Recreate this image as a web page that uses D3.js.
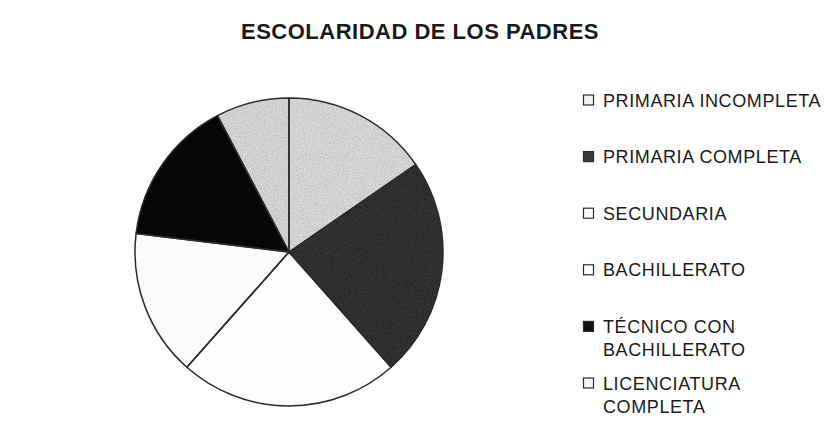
<!DOCTYPE html>
<html>
<head>
<meta charset="utf-8">
<script src="https://cdn.jsdelivr.net/npm/d3@7/dist/d3.min.js"></script>
<style>
  html, body { margin: 0; padding: 0; background: #ffffff; }
  svg { display: block; }
  text { font-family: "Liberation Sans", Arial, Helvetica, sans-serif; fill: #1a1a1a; }
</style>
</head>
<body>
<svg id="chart" width="834" height="445"></svg>
<script>
// Escolaridad de los padres: number of parents per schooling level
const categories = [
  "PRIMARIA INCOMPLETA",
  "PRIMARIA COMPLETA",
  "SECUNDARIA",
  "BACHILLERATO",
  "TÉCNICO CON BACHILLERATO",
  "LICENCIATURA COMPLETA"
];
const counts = [4, 6, 6, 4, 4, 2];
const legendLines = [
  ["PRIMARIA INCOMPLETA"],
  ["PRIMARIA COMPLETA"],
  ["SECUNDARIA"],
  ["BACHILLERATO"],
  ["TÉCNICO CON", "BACHILLERATO"],
  ["LICENCIATURA", "COMPLETA"]
];
const fills = ["#dadada", "#353535", "#fdfdfd", "#fbfbfb", "#060606", "#d8d8d8"];
const legendFills = ["#f4f4f4", "#3a3a3a", "#ffffff", "#ffffff", "#111111", "#f4f4f4"];
const title = "ESCOLARIDAD DE LOS PADRES";

const svg = d3.select("#chart");

// grain used on the shaded wedges
const defs = svg.append("defs");
const grain = defs.append("filter").attr("id", "grain")
  .attr("x", 0).attr("y", 0).attr("width", 1).attr("height", 1);
grain.append("feTurbulence").attr("type", "fractalNoise")
  .attr("baseFrequency", 0.9).attr("numOctaves", 2).attr("seed", 7).attr("result", "n");
grain.append("feColorMatrix").attr("in", "n").attr("type", "matrix")
  .attr("values", "0 0 0 0 0  0 0 0 0 0  0 0 0 0 0  0 0 0 -1.6 1.0")
  .attr("result", "dots");
grain.append("feComposite").attr("in", "dots").attr("in2", "SourceGraphic").attr("operator", "in");

// title
svg.append("text")
  .attr("x", 420).attr("y", 39)
  .attr("text-anchor", "middle")
  .attr("font-size", 22).attr("font-weight", "bold")
  .attr("letter-spacing", 0.5)
  .text(title);

// pie
const cx = 289, cy = 252, r = 154;
const pie = d3.pie().sort(null).value(d => d)(counts);
const arc = d3.arc().innerRadius(0).outerRadius(r);
const g = svg.append("g").attr("transform", `translate(${cx},${cy})`);

g.selectAll("path.slice")
  .data(pie)
  .join("path")
  .attr("class", "slice")
  .attr("d", arc)
  .attr("fill", (d, i) => fills[i]);

// grain overlay on the grey wedges
g.selectAll("path.grain")
  .data(pie.filter((d, i) => i === 0 || i === 1 || i === 5))
  .join("path")
  .attr("class", "grain")
  .attr("d", arc)
  .attr("fill", d => d.index === 1 ? "#5a5a5a" : "#c4c4c4")
  .attr("opacity", d => d.index === 1 ? 0.5 : 0.18)
  .attr("filter", "url(#grain)");

// wedge edges on top of the grain
g.selectAll("path.edge")
  .data(pie)
  .join("path")
  .attr("class", "edge")
  .attr("d", arc)
  .attr("fill", "none")
  .attr("stroke", "#2b2b2b")
  .attr("stroke-width", 1.5)
  .attr("stroke-linejoin", "round");

// legend
const rowY = d3.scaleLinear().domain([0, categories.length - 1]).range([100, 383]);
const legend = svg.append("g");
const items = legend.selectAll("g.item")
  .data(categories)
  .join("g")
  .attr("class", "item")
  .attr("transform", (d, i) => `translate(583,${rowY(i)})`);

items.append("rect")
  .attr("x", 0.5).attr("y", -5)
  .attr("width", 10).attr("height", 10)
  .attr("fill", (d, i) => legendFills[i])
  .attr("stroke", "#2a2a2a")
  .attr("stroke-width", 1.2);

items.each(function (d, i) {
  const t = d3.select(this).append("text")
    .attr("x", 20).attr("y", 6.5)
    .attr("font-size", 18)
    .attr("letter-spacing", 0.6);
  legendLines[i].forEach((line, k) => {
    t.append("tspan").attr("x", 20).attr("dy", k === 0 ? 0 : 23.5).text(line);
  });
});
</script>
</body>
</html>
